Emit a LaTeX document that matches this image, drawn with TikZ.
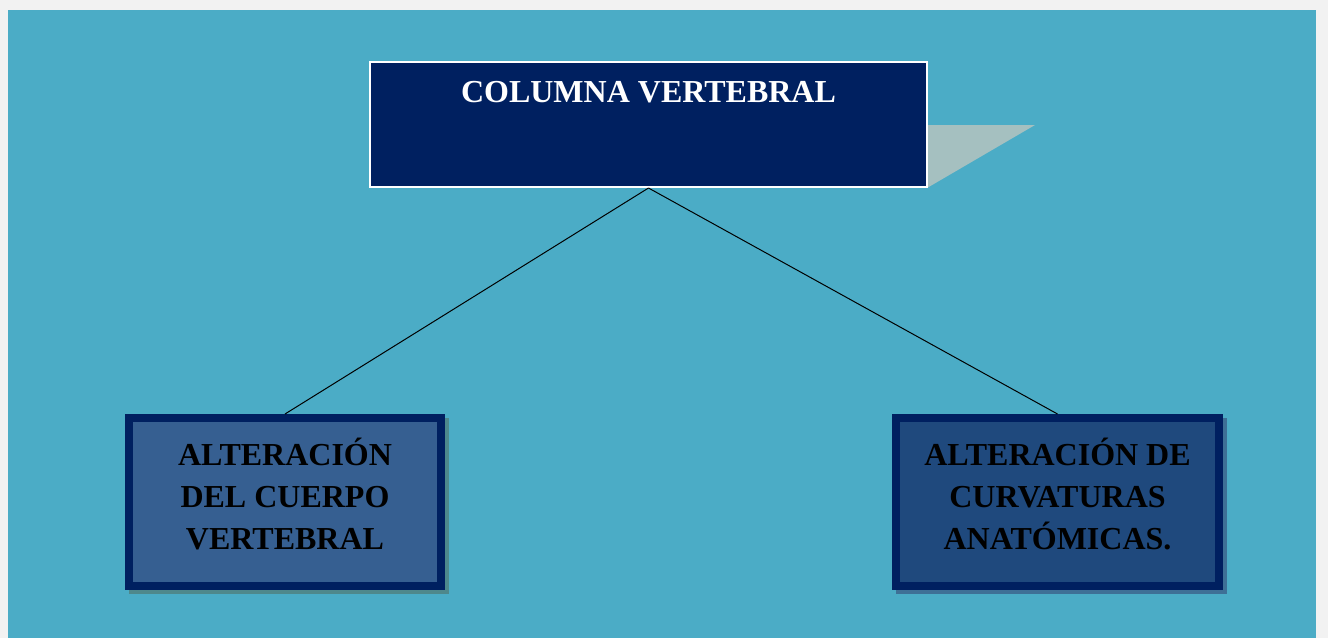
\documentclass[tikz,border=0pt]{standalone}
\usepackage{fontspec}
\setmainfont{Liberation Serif}
\definecolor{pagebg}{HTML}{F2F2F2}
\definecolor{teal}{HTML}{4BACC6}
\definecolor{navy}{HTML}{002060}
\definecolor{tail}{HTML}{A5C0C0}
\definecolor{fillL}{HTML}{365F91}
\definecolor{fillR}{HTML}{1F497D}
\definecolor{shadL}{RGB}{78,136,140}
\definecolor{shadR}{RGB}{62,112,150}
\tikzset{
  x=1pt, y=-1pt,
  txt/.style={font=\fontsize{32}{42}\selectfont\bfseries, align=center, inner sep=0pt},
  topbox/.style={draw=white, line width=2pt, fill=navy, minimum width=557pt, minimum height=125pt, inner sep=0pt},
  subbox/.style 2 args={draw=navy, line width=8pt, minimum width=#1, minimum height=168pt, inner sep=0pt,
    preaction={draw=#2, fill=#2, transform canvas={xshift=4pt, yshift=-4pt}}},
  link/.style={draw=black, line width=1pt}
}
\begin{document}
\begin{tikzpicture}
\useasboundingbox (0,0) rectangle (1328,638);
\fill[pagebg] (0,0) rectangle (1328,638);
\fill[teal] (8,10) rectangle (1316,638);
% tail behind the title box
\fill[tail] (927,125) -- (1035,125) -- (927,188) -- cycle;
\node[topbox] (top) at (648.5,124.5) {};
\node[txt, text=white] (toptxt) at (648.5,92) {COLUMNA VERTEBRAL};
% lower boxes
\node[subbox={312pt}{shadL}, fill=fillL] (left) at (285,502) {};
\node[subbox={323pt}{shadR}, fill=fillR] (right) at (1057.5,502) {};
\node[txt] (lefttxt) at (285,494) {ALTERACIÓN\\DEL CUERPO\\VERTEBRAL};
\node[txt] (righttxt) at (1057.5,494) {ALTERACIÓN DE\\CURVATURAS\\ANATÓMICAS.};
\draw[link] (top.south) -- (left.north);
\draw[link] (top.south) -- (right.north);
\end{tikzpicture}
\end{document}
